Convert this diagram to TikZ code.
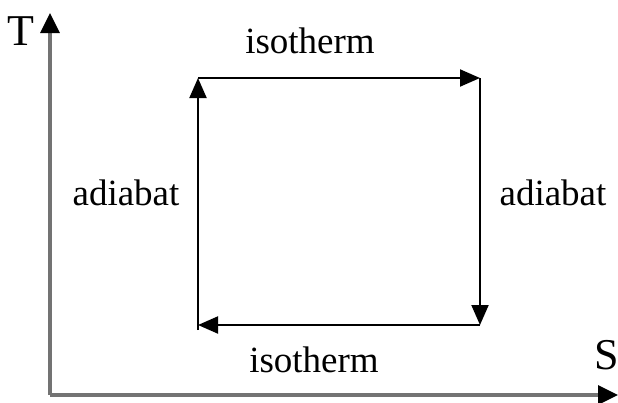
\documentclass[tikz,border=0pt]{standalone}
\usepackage{fontspec}
\setmainfont{Liberation Serif}
\usetikzlibrary{arrows.meta}
\begin{document}
\begin{tikzpicture}[x=1pt,y=-1pt,
  lbl/.style={font=\fontsize{37}{40}\selectfont, inner sep=0pt, anchor=base},
  axlbl/.style={font=\fontsize{44}{48}\selectfont, inner sep=0pt, anchor=base},
  axis/.style={draw=black!55, line width=3.2pt, -{Triangle[length=20pt,width=19pt,color=black]}},
  side/.style={draw=black, line width=2pt, -{Triangle[length=20pt,width=17pt]}}]
\useasboundingbox (0,0) rectangle (618,402);
\coordinate (O) at (50,395);
\coordinate (Ttip) at (50,13);
\coordinate (Stip) at (618,395);
\draw[axis] (O) -- (Ttip);
\draw[axis] (O) -- (Stip);
\coordinate (A) at (198,78);
\coordinate (B) at (480,78);
\coordinate (C) at (480,325);
\coordinate (D) at (198,325);
\coordinate (D0) at (198,330);
\draw[side] (D0) -- (A);
\draw[side] (A) -- (B);
\draw[side] (B) -- (C);
\draw[side] (C) -- (D);
\node[axlbl] (T) at (21,45) {T};
\node[axlbl] (S) at (607,369) {S};
\node[lbl] (it) at (310,53) {isotherm};
\node[lbl] (ib) at (314,372) {isotherm};
\node[lbl] (al) at (126,205) {adiabat};
\node[lbl] (ar) at (553,205) {adiabat};
\end{tikzpicture}
\end{document}
